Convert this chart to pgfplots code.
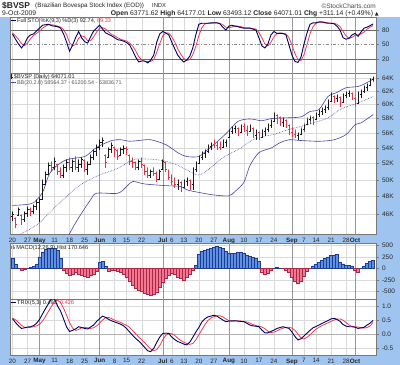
\documentclass[border=0pt]{standalone}
\usepackage{fontspec}
\setmainfont{Liberation Sans}
\newfontfamily\dejavu{DejaVu Sans}
\usepackage{pgfplots}
\usepackage{pgfplotstable}
\pgfplotsset{compat=1.18}

\definecolor{bgblue}{RGB}{160,196,240}
\definecolor{framec}{RGB}{120,120,120}
\definecolor{gridc}{RGB}{218,218,218}
\definecolor{monthc}{RGB}{150,150,160}
\definecolor{navyl}{RGB}{0,0,100}
\definecolor{redl}{RGB}{240,50,80}
\definecolor{bbc}{RGB}{70,70,165}
\definecolor{barred}{RGB}{225,50,70}
\definecolor{mblue}{RGB}{95,145,225}
\definecolor{mblued}{RGB}{30,60,150}
\definecolor{mred}{RGB}{242,120,145}
\definecolor{mredd}{RGB}{170,40,70}
\definecolor{txt}{RGB}{35,35,35}
\definecolor{stoc}{RGB}{105,105,105}

\pgfplotsset{
  panel/.style={
    scale only axis, width=366pt,
    xmin=-0.83, xmax=120.96,
    axis background/.style={fill=white},
    axis line style={draw=framec, line width=0.6pt},
    xmajorgrids,
    major grid style={draw=gridc, line width=0.4pt},
    xtick={0,5,14,19,24,34,38,43,53,57,62,67,77,82,87,97,101,106,111},
    xticklabels={20,27,11,18,25,8,15,22,6,13,20,27,10,17,24,7,14,21,28},
    extra x ticks={9,29,50,72,93,114},
    extra x tick labels={\textbf{May},\textbf{Jun},\textbf{Jul},\textbf{Aug},\textbf{Sep},\textbf{Oct}},
    extra x tick style={grid=major, major grid style={draw=monthc, line width=0.5pt}},
    xtick style={draw=none},
    ytick pos=right, yticklabel pos=right,
    tick align=outside, major tick length=2.5pt,
    ytick style={draw=framec, line width=0.4pt},
    tick label style={font=\fontsize{6.5}{7}\selectfont, text=black!85},
    xticklabel style={inner sep=0.9pt, font=\fontsize{6.3}{7}\selectfont},
    minor tick num=0,
  },
  pr/.style={draw=barred, line width=0.55pt, line join=round, forget plot},
  pk/.style={draw=black!90, line width=0.55pt, line join=round, forget plot},
}

\pgfplotstableread{
j v
0 47.00
4 47.08
7 47.30
10 48.50
12 50.50
14 51.50
18 52.50
24 52.90
27 53.80
29 54.30
33 55.00
36 55.10
39 54.90
42 55.00
46 55.10
51 54.45
55 53.40
58 52.90
62 52.90
64 53.50
67 54.45
71 55.90
75 57.60
79 57.95
83 57.70
86 58.00
91 58.10
96 58.25
99 59.00
102 59.30
105 61.20
108 61.80
111 62.50
115 62.70
118 63.30
120 63.84
}\bbup

\pgfplotstableread{
j v
0 43.30
3 43.90
6 44.40
9 45.07
12 46.06
15 47.08
18 48.00
21 49.00
24 49.70
29 50.60
35 51.40
40 52.50
44 52.60
48 52.50
51 52.30
55 51.80
58 51.20
62 50.60
66 51.50
69 52.50
73 53.40
76 54.00
80 55.10
84 55.60
87 55.80
92 56.50
96 56.90
100 57.40
105 58.10
109 59.30
114 60.10
117 60.60
120 61.20
}\bbmid

\pgfplotstableread{
j v
0 39.60
5 39.90
10 40.50
14 41.30
17 42.50
19 43.90
22 45.60
26 47.65
28 48.40
35 48.40
38 49.20
40 49.80
44 49.50
51 49.30
56 49.20
58 48.80
62 48.50
67 48.20
72 48.10
74 48.60
77 49.70
79 51.75
82 53.40
86 54.00
89 54.70
92 55.10
96 55.00
102 54.90
107 55.10
111 55.80
114 57.15
116 57.40
120 58.56
}\bblow

\pgfplotstableread{
j k d
0 72 74
1 61 68
2 51 61
3 43 52
4 51 48
5 64 53
6 70 62
7 72 69
8 78 73
9 84 78
10 90 84
11 91 88
12 92 91
13 89 91
14 88 90
15 87 88
16 84 86
17 72 81
18 55 70
19 36 54
20 49 47
21 64 50
22 77 63
23 64 68
24 56 66
25 53 58
26 66 58
27 78 66
28 84 76
29 90 84
30 82 85
31 74 82
32 71 76
33 68 71
34 64 68
35 60 64
36 59 61
37 57 59
38 54 57
39 49 53
40 37 47
41 24 37
42 14 25
43 16 18
44 16 15
45 12 15
46 18 15
47 28 19
48 55 34
49 72 52
50 77 68
51 74 74
52 70 74
53 55 66
54 41 55
55 28 41
56 20 30
57 14 21
58 18 17
59 26 19
60 43 29
61 70 46
62 92 68
63 94 85
64 94 93
65 94 94
66 95 94
67 95 95
68 95 95
69 93 94
70 86 91
71 80 86
72 88 85
73 90 86
74 88 89
75 87 88
76 85 87
77 84 85
78 84 84
79 84 84
80 82 83
81 80 82
82 64 75
83 47 64
84 43 51
85 51 47
86 70 55
87 77 66
88 73 73
89 73 74
90 73 73
91 70 72
92 49 64
93 28 49
94 15 31
95 13 19
96 24 17
97 51 29
98 74 50
99 92 72
100 95 87
101 95 94
102 97 96
103 97 96
104 95 96
105 94 95
106 94 94
107 93 94
108 88 92
109 80 87
110 64 77
111 61 68
112 63 63
113 70 65
114 73 69
115 67 70
116 76 72
117 84 76
118 86 82
119 89 86
120 92.74 89.33
}\sto

\pgfplotstableread{
j h
0 230
1 100
2 10
3 -30
4 -10
5 10
6 30
7 55
8 100
9 250
10 360
11 420
12 445
13 445
14 435
15 400
16 230
17 -40
18 -100
19 -140
20 -120
21 -90
22 -120
23 -140
24 -160
25 -180
26 -150
27 -120
28 -55
29 140
30 150
31 55
32 -65
33 -45
34 -35
35 -55
36 -75
37 -120
38 -185
39 -270
40 -360
41 -425
42 -465
43 -500
44 -530
45 -555
46 -575
47 -555
48 -505
49 -400
50 -295
51 -205
52 -140
53 -105
54 -120
55 -185
56 -215
57 -260
58 -185
59 -120
60 -30
61 75
62 315
63 370
64 400
65 425
66 445
67 460
68 475
69 465
70 435
71 380
72 335
73 330
74 335
75 345
76 345
77 335
78 295
79 260
80 245
81 215
82 150
83 -70
84 -120
85 -105
86 -45
87 10
88 20
89 10
90 0
91 -30
92 -75
93 -180
94 -270
95 -320
96 -270
97 -165
98 -55
99 0
100 55
101 100
102 140
103 175
104 215
105 250
106 280
107 295
108 315
109 140
110 100
111 75
112 65
113 45
114 -30
115 -75
116 10
117 55
118 110
119 150
120 170.646
}\macd

\pgfplotstableread{
j t s
0 0.56 0.58
1 0.42 0.52
2 0.30 0.42
3 0.21 0.32
4 0.23 0.25
5 0.26 0.23
6 0.27 0.25
7 0.31 0.27
8 0.39 0.30
9 0.53 0.36
10 0.73 0.47
11 0.92 0.64
12 1.10 0.83
13 1.28 1.00
14 1.25 1.17
15 1.01 1.22
16 0.83 1.13
17 0.55 0.93
18 0.26 0.68
19 0.10 0.42
20 0.14 0.22
21 0.19 0.14
22 0.27 0.17
23 0.24 0.23
24 0.21 0.25
25 0.19 0.23
26 0.26 0.21
27 0.33 0.23
28 0.46 0.30
29 0.56 0.40
30 0.65 0.51
31 0.60 0.60
32 0.53 0.60
33 0.48 0.56
34 0.44 0.50
35 0.40 0.46
36 0.36 0.42
37 0.30 0.37
38 0.20 0.32
39 0.08 0.24
40 -0.04 0.13
41 -0.15 0.02
42 -0.24 -0.10
43 -0.35 -0.20
44 -0.47 -0.30
45 -0.59 -0.42
46 -0.62 -0.53
47 -0.50 -0.58
48 -0.29 -0.55
49 -0.10 -0.40
50 0.03 -0.20
51 0.04 -0.04
52 0.03 0.03
53 -0.10 0.02
54 -0.19 -0.04
55 -0.26 -0.14
56 -0.30 -0.22
57 -0.35 -0.28
58 -0.38 -0.33
59 -0.28 -0.36
60 -0.11 -0.33
61 0.08 -0.20
62 0.24 -0.02
63 0.44 0.16
64 0.55 0.34
65 0.62 0.49
66 0.65 0.58
67 0.68 0.63
68 0.65 0.66
69 0.58 0.66
70 0.51 0.62
71 0.45 0.55
72 0.47 0.49
73 0.48 0.47
74 0.48 0.48
75 0.47 0.48
76 0.46 0.47
77 0.45 0.46
78 0.39 0.44
79 0.33 0.40
80 0.30 0.35
81 0.29 0.31
82 0.27 0.29
83 0.15 0.26
84 0.05 0.20
85 0.05 0.11
86 0.10 0.06
87 0.15 0.08
88 0.21 0.12
89 0.24 0.18
90 0.27 0.22
91 0.24 0.25
92 0.21 0.25
93 0.08 0.22
94 -0.08 0.14
95 -0.20 0.01
96 -0.16 -0.13
97 -0.06 -0.17
98 0.04 -0.11
99 0.14 -0.02
100 0.23 0.09
101 0.28 0.18
102 0.33 0.25
103 0.39 0.31
104 0.44 0.36
105 0.49 0.41
106 0.55 0.46
107 0.57 0.51
108 0.53 0.55
109 0.46 0.55
110 0.35 0.50
111 0.29 0.42
112 0.27 0.33
113 0.27 0.28
114 0.25 0.27
115 0.21 0.26
116 0.23 0.23
117 0.25 0.22
118 0.33 0.24
119 0.40 0.30
120 0.493 0.426
}\trix

\newcommand\fs[1]{\fontsize{#1}{#1}\selectfont}

\begin{document}
\begin{tikzpicture}
\path[use as bounding box] (0pt,0pt) rectangle (400pt,-365pt);
\fill[bgblue] (0pt,-17pt) rectangle (400pt,-365pt);
\fill[white] (0pt,0pt) rectangle (400pt,-17pt);

% ---------- STO panel ----------
\begin{axis}[panel, at={(10pt,-17pt)}, anchor=north west, height=56pt,
  ymin=-8.9, ymax=107, ytick={20,50,80}, yticklabels={20,50,80},
  xticklabels={}, extra x tick labels={}]
\addplot[stoc, line width=0.7pt, forget plot] coordinates {(-2,80) (123,80)};
\addplot[stoc, line width=0.7pt, forget plot] coordinates {(-2,20) (123,20)};
\addplot[stoc!80, line width=0.6pt, dash dot, forget plot] coordinates {(-2,50) (123,50)};
\addplot[redl, line width=0.75pt] table[x=j,y=d]{\sto};
\addplot[navyl, line width=0.9pt] table[x=j,y=k]{\sto};
\end{axis}

% ---------- Price panel ----------
\begin{axis}[panel, at={(10pt,-73pt)}, anchor=north west, height=161.3pt,
  ymode=log, ymin=43.82, ymax=64.78, ymajorgrids,
  ytick={46,48,50,52,54,56,58,60,62,64},
  yticklabels={46K,48K,50K,52K,54K,56K,58K,60K,62K,64K}]
\addplot[bbc, line width=0.6pt, smooth] table[x=j,y=v]{\bbup};
\addplot[bbc, line width=0.6pt, densely dotted, smooth] table[x=j,y=v]{\bbmid};
\addplot[bbc, line width=0.6pt, smooth] table[x=j,y=v]{\bblow};
\addplot[pk] coordinates {(-0.42,45.80)(0,45.80)(0,46.29)(0,45.29)(0,45.95)(0.42,45.95)};
\addplot[pr] coordinates {(0.58,45.55)(1,45.55)(1,45.62)(1,44.52)(1,44.85)(1.42,44.85)};
\addplot[pk] coordinates {(1.58,45.90)(2,45.90)(2,46.74)(2,45.84)(2,46.51)(2.42,46.51)};
\addplot[pr] coordinates {(2.58,45.90)(3,45.90)(3,45.95)(3,44.85)(3,45.40)(3.42,45.40)};
\addplot[pk] coordinates {(3.58,45.40)(4,45.40)(4,46.29)(4,45.18)(4,46.06)(4.42,46.06)};
\addplot[pk] coordinates {(4.58,46.06)(5,46.06)(5,46.85)(5,45.73)(5,46.51)(5.42,46.51)};
\addplot[pr] coordinates {(5.58,46.51)(6,46.51)(6,46.74)(6,45.84)(6,46.29)(6.42,46.29)};
\addplot[pk] coordinates {(6.58,46.29)(7,46.29)(7,47.08)(7,46.06)(7,46.85)(7.42,46.85)};
\addplot[pk] coordinates {(7.58,46.85)(8,46.85)(8,47.65)(8,46.51)(8,47.31)(8.42,47.31)};
\addplot[pk] coordinates {(8.58,47.31)(9,47.31)(9,47.88)(9,45.18)(9,47.65)(9.42,47.65)};
\addplot[pk] coordinates {(9.58,47.65)(10,47.65)(10,50.02)(10,47.65)(10,49.42)(10.42,49.42)};
\addplot[pk] coordinates {(10.58,49.42)(11,49.42)(11,51.00)(11,49.42)(11,50.63)(11.42,50.63)};
\addplot[pk] coordinates {(11.58,50.63)(12,50.63)(12,52.12)(12,50.63)(12,51.75)(12.42,51.75)};
\addplot[pr] coordinates {(12.58,51.75)(13,51.75)(13,52.25)(13,51.00)(13,51.50)(13.42,51.50)};
\addplot[pk] coordinates {(13.58,51.50)(14,51.50)(14,52.76)(14,51.24)(14,52.25)(14.42,52.25)};
\addplot[pr] coordinates {(14.58,51.87)(15,51.87)(15,51.87)(15,50.63)(15,51.00)(15.42,51.00)};
\addplot[pr] coordinates {(15.58,51.00)(16,51.00)(16,51.50)(16,50.26)(16,50.50)(16.42,50.50)};
\addplot[pk] coordinates {(16.58,50.50)(17,50.50)(17,51.87)(17,50.26)(17,51.50)(17.42,51.50)};
\addplot[pk] coordinates {(17.58,51.50)(18,51.50)(18,52.50)(18,51.00)(18,52.12)(18.42,52.12)};
\addplot[pr] coordinates {(18.58,52.12)(19,52.12)(19,52.76)(19,51.24)(19,51.50)(19.42,51.50)};
\addplot[pk] coordinates {(19.58,51.50)(20,51.50)(20,52.50)(20,51.00)(20,52.25)(20.42,52.25)};
\addplot[pr] coordinates {(20.58,52.25)(21,52.25)(21,52.89)(21,51.24)(21,51.50)(21.42,51.50)};
\addplot[pk] coordinates {(21.58,51.50)(22,51.50)(22,52.50)(22,51.00)(22,51.87)(22.42,51.87)};
\addplot[pk] coordinates {(22.58,51.87)(23,51.87)(23,52.76)(23,51.50)(23,52.50)(23.42,52.50)};
\addplot[pr] coordinates {(23.58,52.40)(24,52.40)(24,52.50)(24,51.00)(24,51.24)(24.42,51.24)};
\addplot[pk] coordinates {(24.58,51.24)(25,51.24)(25,52.25)(25,50.63)(25,51.87)(25.42,51.87)};
\addplot[pk] coordinates {(25.58,51.90)(26,51.90)(26,53.14)(26,51.87)(26,52.76)(26.42,52.76)};
\addplot[pk] coordinates {(26.58,52.76)(27,52.76)(27,53.79)(27,52.50)(27,53.53)(27.42,53.53)};
\addplot[pk] coordinates {(27.58,53.53)(28,53.53)(28,54.45)(28,53.01)(28,54.05)(28.42,54.05)};
\addplot[pk] coordinates {(28.58,54.05)(29,54.05)(29,55.11)(29,53.79)(29,54.71)(29.42,54.71)};
\addplot[pk] coordinates {(29.58,54.71)(30,54.71)(30,55.38)(30,54.18)(30,54.98)(30.42,54.98)};
\addplot[pr] coordinates {(30.58,53.10)(31,53.10)(31,53.14)(31,51.50)(31,52.12)(31.42,52.12)};
\addplot[pk] coordinates {(31.58,52.80)(32,52.80)(32,54.05)(32,52.76)(32,53.79)(32.42,53.79)};
\addplot[pk] coordinates {(32.58,53.79)(33,53.79)(33,54.71)(33,53.40)(33,54.31)(33.42,54.31)};
\addplot[pr] coordinates {(33.58,54.15)(34,54.15)(34,54.18)(34,52.89)(34,53.79)(34.42,53.79)};
\addplot[pr] coordinates {(34.58,53.70)(35,53.70)(35,53.79)(35,52.50)(35,52.89)(35.42,52.89)};
\addplot[pk] coordinates {(35.58,53.05)(36,53.05)(36,54.05)(36,53.01)(36,53.79)(36.42,53.79)};
\addplot[pk] coordinates {(36.58,53.79)(37,53.79)(37,54.31)(37,53.27)(37,53.92)(37.42,53.92)};
\addplot[pr] coordinates {(37.58,53.92)(38,53.92)(38,54.18)(38,53.14)(38,53.79)(38.42,53.79)};
\addplot[pr] coordinates {(38.58,53.10)(39,53.10)(39,53.14)(39,51.87)(39,52.25)(39.42,52.25)};
\addplot[pr] coordinates {(39.58,52.25)(40,52.25)(40,52.76)(40,51.50)(40,52.12)(40.42,52.12)};
\addplot[pr] coordinates {(40.58,52.12)(41,52.12)(41,52.25)(41,51.24)(41,51.50)(41.42,51.50)};
\addplot[pk] coordinates {(41.58,51.50)(42,51.50)(42,52.50)(42,51.24)(42,52.25)(42.42,52.25)};
\addplot[pr] coordinates {(42.58,52.25)(43,52.25)(43,52.76)(43,51.50)(43,51.87)(43.42,51.87)};
\addplot[pr] coordinates {(43.58,51.80)(44,51.80)(44,51.87)(44,50.63)(44,51.00)(44.42,51.00)};
\addplot[pr] coordinates {(44.58,51.00)(45,51.00)(45,51.50)(45,50.26)(45,50.50)(45.42,50.50)};
\addplot[pk] coordinates {(45.58,50.50)(46,50.50)(46,51.24)(46,50.26)(46,51.00)(46.42,51.00)};
\addplot[pr] coordinates {(46.58,51.00)(47,51.00)(47,51.50)(47,50.50)(47,50.75)(47.42,50.75)};
\addplot[pr] coordinates {(47.58,50.75)(48,50.75)(48,51.00)(48,49.78)(48,50.02)(48.42,50.02)};
\addplot[pk] coordinates {(48.58,50.05)(49,50.05)(49,51.24)(49,50.02)(49,51.00)(49.42,51.00)};
\addplot[pk] coordinates {(49.58,51.30)(50,51.30)(50,52.50)(50,51.24)(50,52.25)(50.42,52.25)};
\addplot[pr] coordinates {(50.58,52.20)(51,52.20)(51,52.25)(51,51.00)(51,51.24)(51.42,51.24)};
\addplot[pr] coordinates {(51.58,51.20)(52,51.20)(52,51.24)(52,50.02)(52,50.26)(52.42,50.26)};
\addplot[pr] coordinates {(52.58,50.26)(53,50.26)(53,50.63)(53,49.42)(53,49.78)(53.42,49.78)};
\addplot[pr] coordinates {(53.58,49.78)(54,49.78)(54,50.26)(54,49.06)(54,49.42)(54.42,49.42)};
\addplot[pk] coordinates {(54.58,49.42)(55,49.42)(55,50.02)(55,48.82)(55,49.66)(55.42,49.66)};
\addplot[pr] coordinates {(55.58,49.66)(56,49.66)(56,49.78)(56,48.59)(56,49.06)(56.42,49.06)};
\addplot[pk] coordinates {(56.58,49.10)(57,49.10)(57,50.02)(57,49.06)(57,49.78)(57.42,49.78)};
\addplot[pk] coordinates {(57.58,49.78)(58,49.78)(58,50.26)(58,49.30)(58,50.02)(58.42,50.02)};
\addplot[pr] coordinates {(58.58,50.00)(59,50.00)(59,50.02)(59,48.82)(59,49.42)(59.42,49.42)};
\addplot[pk] coordinates {(59.58,49.42)(60,49.42)(60,51.50)(60,48.82)(60,51.24)(60.42,51.24)};
\addplot[pk] coordinates {(60.58,51.24)(61,51.24)(61,52.25)(61,51.00)(61,51.87)(61.42,51.87)};
\addplot[pk] coordinates {(61.58,52.00)(62,52.00)(62,53.01)(62,52.00)(62,52.76)(62.42,52.76)};
\addplot[pk] coordinates {(62.58,52.76)(63,52.76)(63,53.53)(63,52.50)(63,53.27)(63.42,53.27)};
\addplot[pk] coordinates {(63.58,53.27)(64,53.27)(64,53.79)(64,52.76)(64,53.53)(64.42,53.53)};
\addplot[pk] coordinates {(64.58,53.53)(65,53.53)(65,54.45)(65,53.40)(65,54.18)(65.42,54.18)};
\addplot[pk] coordinates {(65.58,54.18)(66,54.18)(66,54.71)(66,53.79)(66,54.45)(66.42,54.45)};
\addplot[pr] coordinates {(66.58,54.45)(67,54.45)(67,55.11)(67,54.05)(67,54.31)(67.42,54.31)};
\addplot[pr] coordinates {(67.58,54.31)(68,54.31)(68,54.84)(68,53.79)(68,54.05)(68.42,54.05)};
\addplot[pr] coordinates {(68.58,54.05)(69,54.05)(69,54.84)(69,53.79)(69,53.92)(69.42,53.92)};
\addplot[pk] coordinates {(69.58,54.05)(70,54.05)(70,55.11)(70,54.05)(70,54.71)(70.42,54.71)};
\addplot[pk] coordinates {(70.58,54.71)(71,54.71)(71,55.11)(71,54.18)(71,54.84)(71.42,54.84)};
\addplot[pk] coordinates {(71.58,55.40)(72,55.40)(72,56.46)(72,55.38)(72,56.19)(72.42,56.19)};
\addplot[pk] coordinates {(72.58,56.19)(73,56.19)(73,56.87)(73,55.92)(73,56.60)(73.42,56.60)};
\addplot[pk] coordinates {(73.58,56.60)(74,56.60)(74,57.01)(74,56.05)(74,56.74)(74.42,56.74)};
\addplot[pr] coordinates {(74.58,56.70)(75,56.70)(75,56.74)(75,55.65)(75,56.05)(75.42,56.05)};
\addplot[pk] coordinates {(75.58,56.05)(76,56.05)(76,57.15)(76,56.05)(76,56.87)(76.42,56.87)};
\addplot[pr] coordinates {(76.58,56.87)(77,56.87)(77,57.29)(77,56.19)(77,56.33)(77.42,56.33)};
\addplot[pr] coordinates {(77.58,56.33)(78,56.33)(78,57.01)(78,55.65)(78,55.92)(78.42,55.92)};
\addplot[pk] coordinates {(78.58,56.20)(79,56.20)(79,57.15)(79,56.19)(79,56.87)(79.42,56.87)};
\addplot[pr] coordinates {(79.58,56.70)(80,56.70)(80,56.74)(80,55.38)(80,55.65)(80.42,55.65)};
\addplot[pk] coordinates {(80.58,55.65)(81,55.65)(81,56.46)(81,55.11)(81,56.19)(81.42,56.19)};
\addplot[pr] coordinates {(81.58,56.15)(82,56.15)(82,56.19)(82,55.11)(82,55.38)(82.42,55.38)};
\addplot[pk] coordinates {(82.58,55.40)(83,55.40)(83,56.46)(83,55.38)(83,56.19)(83.42,56.19)};
\addplot[pk] coordinates {(83.58,56.19)(84,56.19)(84,56.74)(84,55.65)(84,56.46)(84.42,56.46)};
\addplot[pk] coordinates {(84.58,56.46)(85,56.46)(85,57.29)(85,56.19)(85,57.01)(85.42,57.01)};
\addplot[pk] coordinates {(85.58,57.01)(86,57.01)(86,57.85)(86,56.74)(86,57.57)(86.42,57.57)};
\addplot[pk] coordinates {(86.58,57.60)(87,57.60)(87,58.84)(87,57.57)(87,58.41)(87.42,58.41)};
\addplot[pr] coordinates {(87.58,58.41)(88,58.41)(88,58.55)(88,57.29)(88,58.13)(88.42,58.13)};
\addplot[pr] coordinates {(88.58,58.13)(89,58.13)(89,58.27)(89,57.01)(89,57.43)(89.42,57.43)};
\addplot[pk] coordinates {(89.58,57.43)(90,57.43)(90,58.13)(90,56.87)(90,57.85)(90.42,57.85)};
\addplot[pr] coordinates {(90.58,57.80)(91,57.80)(91,57.85)(91,56.74)(91,57.01)(91.42,57.01)};
\addplot[pr] coordinates {(91.58,57.01)(92,57.01)(92,57.15)(92,55.78)(92,56.05)(92.42,56.05)};
\addplot[pr] coordinates {(92.58,56.05)(93,56.05)(93,56.74)(93,55.51)(93,55.78)(93.42,55.78)};
\addplot[pr] coordinates {(93.58,55.78)(94,55.78)(94,56.46)(94,55.38)(94,55.65)(94.42,55.65)};
\addplot[pk] coordinates {(94.58,55.65)(95,55.65)(95,56.05)(95,55.11)(95,55.78)(95.42,55.78)};
\addplot[pk] coordinates {(95.58,55.80)(96,55.80)(96,56.74)(96,55.78)(96,56.46)(96.42,56.46)};
\addplot[pk] coordinates {(96.58,56.46)(97,56.46)(97,57.29)(97,56.19)(97,57.01)(97.42,57.01)};
\addplot[pk] coordinates {(97.58,57.15)(98,57.15)(98,58.13)(98,57.15)(98,57.85)(98.42,57.85)};
\addplot[pk] coordinates {(98.58,57.85)(99,57.85)(99,58.41)(99,57.29)(99,58.13)(99.42,58.13)};
\addplot[pr] coordinates {(99.58,58.13)(100,58.13)(100,58.27)(100,57.15)(100,57.71)(100.42,57.71)};
\addplot[pk] coordinates {(100.58,57.90)(101,57.90)(101,58.84)(101,57.85)(101,58.55)(101.42,58.55)};
\addplot[pk] coordinates {(101.58,58.55)(102,58.55)(102,59.27)(102,58.27)(102,58.98)(102.42,58.98)};
\addplot[pk] coordinates {(102.58,58.98)(103,58.98)(103,59.55)(103,58.55)(103,59.27)(103.42,59.27)};
\addplot[pk] coordinates {(103.58,59.27)(104,59.27)(104,59.84)(104,58.84)(104,59.55)(104.42,59.55)};
\addplot[pk] coordinates {(104.58,59.55)(105,59.55)(105,60.72)(105,59.27)(105,60.43)(105.42,60.43)};
\addplot[pk] coordinates {(105.58,60.45)(106,60.45)(106,61.76)(106,60.43)(106,61.31)(106.42,61.31)};
\addplot[pr] coordinates {(106.58,61.25)(107,61.25)(107,61.31)(107,60.28)(107,60.87)(107.42,60.87)};
\addplot[pk] coordinates {(107.58,60.87)(108,60.87)(108,61.46)(108,60.43)(108,61.16)(108.42,61.16)};
\addplot[pr] coordinates {(108.58,61.10)(109,61.10)(109,61.16)(109,59.70)(109,59.99)(109.42,59.99)};
\addplot[pk] coordinates {(109.58,60.30)(110,60.30)(110,61.61)(110,60.28)(110,61.31)(110.42,61.31)};
\addplot[pk] coordinates {(110.58,61.31)(111,61.31)(111,61.91)(111,61.02)(111,61.61)(111.42,61.61)};
\addplot[pk] coordinates {(111.58,61.61)(112,61.61)(112,62.06)(112,61.16)(112,61.76)(112.42,61.76)};
\addplot[pr] coordinates {(112.58,61.70)(113,61.70)(113,61.76)(113,60.72)(113,61.02)(113.42,61.02)};
\addplot[pr] coordinates {(113.58,60.95)(114,60.95)(114,61.02)(114,59.84)(114,60.13)(114.42,60.13)};
\addplot[pk] coordinates {(114.58,60.15)(115,60.15)(115,61.91)(115,60.13)(115,61.46)(115.42,61.46)};
\addplot[pk] coordinates {(115.58,61.46)(116,61.46)(116,62.21)(116,61.02)(116,61.91)(116.42,61.91)};
\addplot[pk] coordinates {(116.58,61.91)(117,61.91)(117,62.82)(117,61.76)(117,62.51)(117.42,62.51)};
\addplot[pk] coordinates {(117.58,62.51)(118,62.51)(118,63.12)(118,62.06)(118,62.82)(118.42,62.82)};
\addplot[pk] coordinates {(118.58,62.82)(119,62.82)(119,63.90)(119,62.80)(119,63.76)(119.42,63.76)};
\addplot[pk] coordinates {(119.58,63.77)(120,63.77)(120,64.18)(120,63.49)(120,64.07)(120.42,64.07)};
\end{axis}

% ---------- MACD panel ----------
\begin{axis}[panel, at={(10pt,-243pt)}, anchor=north west, height=56pt,
  ymin=-663, ymax=554, ymajorgrids,
  ytick={-500,-250,0,250,500}, yticklabels={-500,-250,0,250,500},
  xticklabels={}, extra x tick labels={}]
\addplot[ybar, bar width=1, bar shift=0pt, fill=mblue, draw=mblued, line width=0.3pt,
  restrict y to domain=0:2000, forget plot] table[x=j,y=h]{\macd};
\addplot[ybar, bar width=1, bar shift=0pt, fill=mred, draw=mredd, line width=0.3pt,
  restrict y to domain=-2000:0, forget plot] table[x=j,y=h]{\macd};
\end{axis}

% ---------- TRIX panel ----------
\begin{axis}[panel, at={(10pt,-299pt)}, anchor=north west, height=56pt,
  ymin=-0.74, ymax=1.26, ymajorgrids,
  ytick={-0.5,0,0.5,1}, yticklabels={-0.5,0.0,0.5,1.0}]
\addplot[black!30, line width=1.3pt, forget plot] coordinates {(-2,0) (123,0)};
\addplot[redl, line width=0.75pt] table[x=j,y=s]{\trix};
\addplot[navyl, line width=0.9pt] table[x=j,y=t]{\trix};
\end{axis}

% ---------- header ----------
\node[anchor=west, inner sep=0, font=\fs{8.5}\bfseries, text=txt] at (2pt,-6pt) {\$BVSP};
\node[anchor=west, inner sep=0, font=\fs{6.3}, text=txt] at (35pt,-6pt) {(Brazilian Bovespa Stock Index (EOD))};
\node[anchor=west, inner sep=0, font=\fs{5.8}, text=txt] at (152pt,-6pt) {INDX};
\node[anchor=east, inner sep=0, font=\fs{6.5}, text=black!70] at (376pt,-6pt) {©StockCharts.com};
\node[anchor=west, inner sep=0, font=\fs{6.8}, text=txt] at (2pt,-13.3pt) {9-Oct-2009};
\node[anchor=east, inner sep=0, font=\fs{6.8}, text=txt] at (379pt,-13.3pt)
  {\textbf{Open} 63771.62 \textbf{High} 64177.01 \textbf{Low} 63493.12 \textbf{Close} 64071.01 \textbf{Chg} +311.14 (+0.49\%) {\dejavu\fs{5}▲}};

% ---------- panel legends ----------
\node[anchor=west, inner sep=0, font=\fs{5.6}, text=txt] at (11pt,-20.8pt)
  {{\color{navyl}\rule[1.6pt]{5pt}{0.9pt}}\,Full STO \%K(9,3) \%D(3) 92.74, {\color{redl}89.33}};
\node[anchor=west, inner sep=0, font=\fs{5.6}, text=txt] at (11pt,-77pt)
  {\rule[-0.3pt]{0.6pt}{4.5pt}\rule[1.3pt]{1.2pt}{0.6pt}\,\$BVSP (Daily) 64071.01};
\node[anchor=west, inner sep=0, font=\fs{5.4}, text=black!65] at (11pt,-82.8pt)
  {{\color{bbc}\rule[1.6pt]{5pt}{0.8pt}}\,BB(20,2.0) 58564.37 - 61200.54 - 63836.71};
\node[anchor=west, inner sep=0, font=\fs{5.6}, text=txt] at (11pt,-247.6pt)
  {{\color{mblue}\rule{1.2pt}{3pt}\hspace{0.3pt}\rule{1.2pt}{4.2pt}\hspace{0.3pt}\rule{1.2pt}{2.5pt}}\,MACD(12,26,9) Hist 170.646};
\node[anchor=west, inner sep=0, font=\fs{5.6}, text=txt] at (11pt,-303.3pt)
  {{\color{navyl}\rule[1.6pt]{5pt}{0.9pt}}\,TRIX(5,3) 0.493, {\color{redl}0.426}};
\end{tikzpicture}
\end{document}
